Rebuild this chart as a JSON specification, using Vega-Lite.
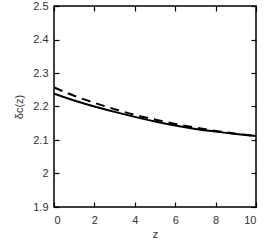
{
  "$schema": "https://vega.github.io/schema/vega-lite/v6.json",
  "width": 202,
  "height": 201,
  "autosize": {"type": "none"},
  "padding": {"left": 54, "top": 6, "right": 9, "bottom": 36},
  "background": "white",
  "config": {
    "view": {"stroke": "black", "strokeWidth": 1.5},
    "axis": {
      "domain": false,
      "grid": false,
      "ticks": true,
      "tickColor": "black",
      "tickWidth": 1.2,
      "tickSize": -5,
      "labelFont": "Liberation Sans",
      "labelFontSize": 11,
      "labelColor": "#333",
      "titleFont": "Liberation Sans",
      "titleFontSize": 11,
      "titleFontWeight": "normal",
      "titleColor": "#333"
    }
  },
  "datasets": {
    "solid": [
      {"z": 0, "delta": 2.238},
      {"z": 1, "delta": 2.218},
      {"z": 2, "delta": 2.2},
      {"z": 3, "delta": 2.184},
      {"z": 4, "delta": 2.169},
      {"z": 5, "delta": 2.155},
      {"z": 6, "delta": 2.143},
      {"z": 7, "delta": 2.133},
      {"z": 8, "delta": 2.125},
      {"z": 9, "delta": 2.118},
      {"z": 10, "delta": 2.112}
    ],
    "dashed": [
      {"z": 0, "delta": 2.257},
      {"z": 1, "delta": 2.232},
      {"z": 2, "delta": 2.211},
      {"z": 3, "delta": 2.192},
      {"z": 4, "delta": 2.175},
      {"z": 5, "delta": 2.161},
      {"z": 6, "delta": 2.148},
      {"z": 7, "delta": 2.137},
      {"z": 8, "delta": 2.127},
      {"z": 9, "delta": 2.119},
      {"z": 10, "delta": 2.112}
    ]
  },
  "layer": [
    {
      "data": {"name": "solid"},
      "mark": {"type": "line", "color": "black", "strokeWidth": 2, "interpolate": "monotone", "clip": true},
      "encoding": {
        "x": {"field": "z", "type": "quantitative", "scale": {"domain": [0, 10], "nice": false},
              "axis": {"orient": "bottom", "values": [0, 2, 4, 6, 8, 10], "title": "z", "labelPadding": 12, "titlePadding": 3}},
        "y": {"field": "delta", "type": "quantitative", "scale": {"domain": [1.9, 2.5], "nice": false, "zero": false},
              "axis": {"orient": "left", "values": [1.9, 2.0, 2.1, 2.2, 2.3, 2.4, 2.5], "labelExpr": "datum.value == 2 ? '2' : format(datum.value, '.1f')", "title": "δc(z)", "labelPadding": 11, "titlePadding": 8}}
      }
    },
    {
      "data": {"name": "dashed"},
      "mark": {"type": "line", "color": "black", "strokeWidth": 2, "strokeDash": [9, 6], "interpolate": "monotone", "clip": true},
      "encoding": {
        "x": {"field": "z", "type": "quantitative",
              "axis": {"orient": "top", "values": [0, 2, 4, 6, 8, 10], "labels": false, "title": null}},
        "y": {"field": "delta", "type": "quantitative",
              "axis": {"orient": "right", "values": [1.9, 2.0, 2.1, 2.2, 2.3, 2.4, 2.5], "labels": false, "title": null}}
      }
    }
  ],
  "resolve": {"axis": {"x": "independent", "y": "independent"}}
}
